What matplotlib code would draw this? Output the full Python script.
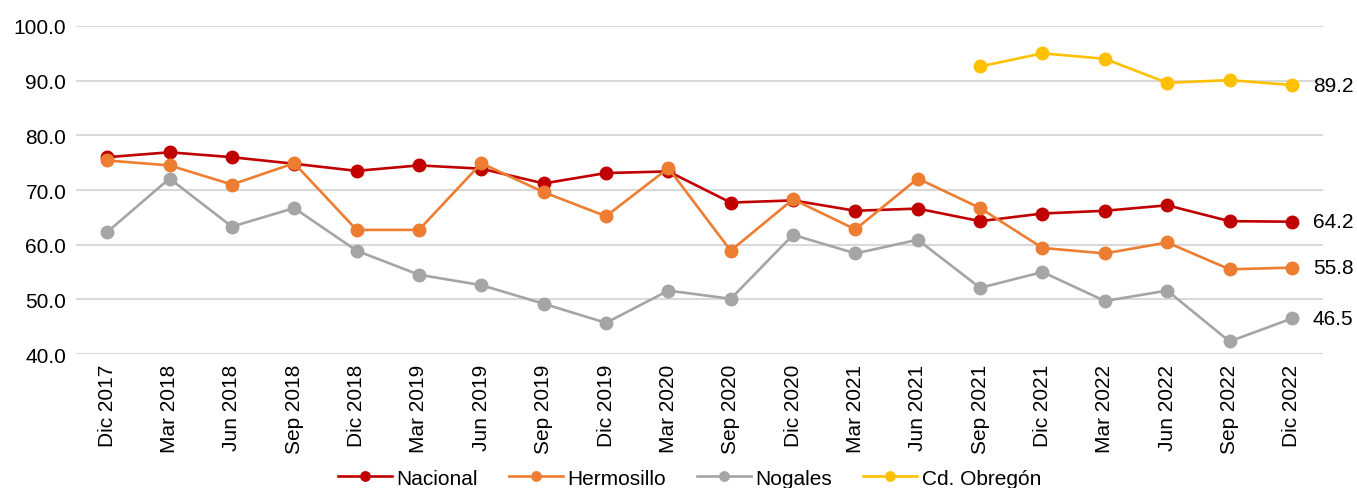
import matplotlib.pyplot as plt
import numpy as np

plt.rcParams["font.family"] = ["Liberation Sans", "DejaVu Sans"]

periodos = ["Dic 2017", "Mar 2018", "Jun 2018", "Sep 2018", "Dic 2018",
            "Mar 2019", "Jun 2019", "Sep 2019", "Dic 2019", "Mar 2020",
            "Sep 2020", "Dic 2020", "Mar 2021", "Jun 2021", "Sep 2021",
            "Dic 2021", "Mar 2022", "Jun 2022", "Sep 2022", "Dic 2022"]

nacional = [76.0, 76.9, 76.0, 74.8, 73.5, 74.5, 73.9, 71.2, 73.1, 73.4,
            67.7, 68.1, 66.2, 66.6, 64.3, 65.7, 66.2, 67.2, 64.3, 64.2]
hermosillo = [75.4, 74.5, 71.0, 74.9, 62.7, 62.7, 74.9, 69.6, 65.2, 74.0,
              58.9, 68.3, 62.8, 72.1, 66.7, 59.4, 58.4, 60.4, 55.5, 55.8]
nogales = [62.3, 72.1, 63.3, 66.7, 58.9, 54.5, 52.6, 49.2, 45.7, 51.6,
           50.1, 61.8, 58.4, 60.9, 52.1, 55.0, 49.7, 51.6, 42.3, 46.5]
# Cd. Obregón only reported from Sep 2021 onwards
obregon = [np.nan] * 14 + [92.6, 95.0, 94.0, 89.6, 90.1, 89.2]

series = [
    ("Nacional", nacional, "#C00000"),
    ("Hermosillo", hermosillo, "#ED7D31"),
    ("Nogales", nogales, "#A5A5A5"),
    ("Cd. Obregón", obregon, "#FFC000"),
]

FS = 15

fig = plt.figure(figsize=(13.57, 4.89), dpi=100)
ax = fig.add_axes([0.0560, 0.274, 0.9190, 0.6708])

x = np.arange(len(periodos))
for name, vals, color in series:
    ax.plot(x, vals, color=color, lw=1.9, marker="o", markersize=9,
            label=name, zorder=3)
    ax.annotate(f"{vals[-1]:.1f}", (x[-1], vals[-1]), xytext=(15, 0),
                textcoords="offset points", va="center", ha="left",
                fontsize=FS, color="black")

ax.set_xlim(-0.5, len(periodos) - 0.5)
ax.set_ylim(40, 100)
ax.set_yticks(np.arange(40, 101, 10))
ax.set_yticklabels([f"{v:.1f}" for v in np.arange(40, 101, 10)], fontsize=FS)
ax.set_xticks(x)
ax.set_xticklabels(periodos, rotation=90, fontsize=FS)
ax.tick_params(length=0, pad=7)
ax.grid(axis="y", color="#D9D9D9", lw=1.5)
ax.set_axisbelow(True)
for s in ax.spines.values():
    s.set_visible(False)

fig.legend(loc="center", bbox_to_anchor=(0.508, 0.02), ncol=4, frameon=False,
           fontsize=FS, handlelength=2.6, markerscale=0.75, columnspacing=1.5,
           handletextpad=0.2)

fig.savefig("out.png", dpi=100)
